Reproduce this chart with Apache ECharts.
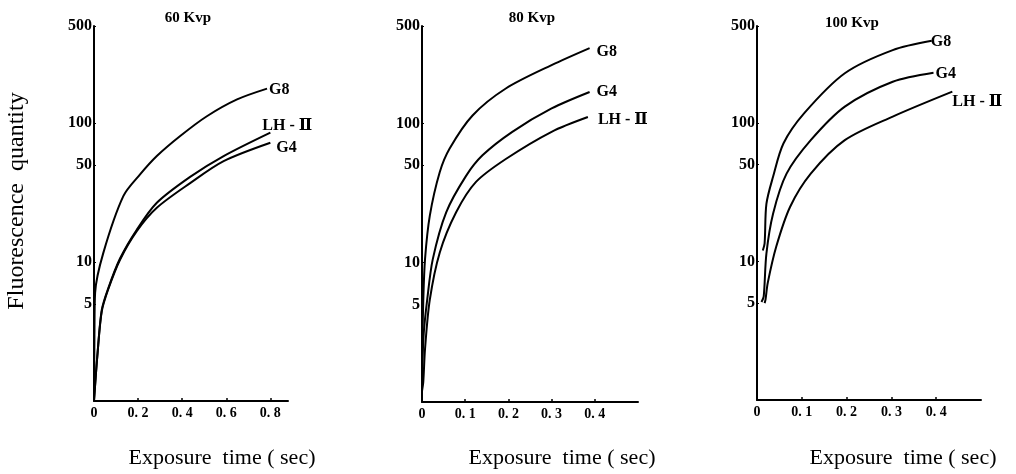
<!DOCTYPE html>
<html>
<head>
<meta charset="utf-8">
<script src="https://cdn.jsdelivr.net/npm/echarts@6/dist/echarts.min.js"></script>
<style>html,body{margin:0;padding:0;background:#fff}#c{width:1016px;height:474px}</style>
</head>
<body>
<div id="c"></div>
<script>
// ---- data (exposure time sec, fluorescence quantity) ----
const panelTitles = ['60 Kvp', '80 Kvp', '100 Kvp'];
const yTickValues = [5, 10, 50, 100, 500];
const xMaxes = [0.88, 0.5, 0.5];
const xIntervals = [0.2, 0.1, 0.1];

// 60 Kvp
const g8_60 = [[0,1],[0.002,3],[0.005,6],[0.042,11.6],[0.133,29.8],[0.209,42.7],[0.285,57.9],[0.391,80.7],[0.512,112],[0.649,148],[0.785,177]];
const lh_60 = [[0,1],[0.005,1.3],[0.015,2.1],[0.035,4.5],[0.065,6.5],[0.118,10.6],[0.194,17.1],[0.285,26.7],[0.436,41],[0.588,57.9],[0.8,85.4]];
const g4_60 = [[0,1],[0.005,1.3],[0.015,2.1],[0.035,4.4],[0.065,6.4],[0.118,10.4],[0.194,16.7],[0.285,24.6],[0.436,37],[0.588,53.3],[0.8,72.3]];
// 80 Kvp
const g8_80 = [[0,2],[0.003,5.4],[0.007,10.6],[0.018,21.7],[0.041,44.6],[0.064,66],[0.117,114],[0.194,178],[0.30,262],[0.388,347]];
const g4_80 = [[0,1.5],[0.004,3.1],[0.012,5.4],[0.025,10.6],[0.056,23],[0.102,42],[0.14,59],[0.209,87],[0.30,128],[0.388,168]];
const lh_80 = [[0,1.2],[0.003,1.4],[0.007,2.4],[0.018,5.4],[0.041,11.8],[0.079,23],[0.125,38],[0.194,55.5],[0.30,87],[0.384,111]];
// 100 Kvp
const g8_100 = [[0.013,12],[0.017,13.5],[0.021,26],[0.036,41],[0.059,71],[0.105,117],[0.196,228],[0.303,335],[0.39,391]];
const g4_100 = [[0.01,5.1],[0.015,5.6],[0.021,11.4],[0.036,22.2],[0.066,43],[0.12,75],[0.196,131],[0.303,198],[0.394,230]];
const lh_100 = [[0.017,5],[0.019,5.3],[0.024,7],[0.043,12.8],[0.074,24.8],[0.12,43],[0.196,75],[0.303,111],[0.436,168]];

const seriesNames = ['G8', 'G4', 'LH - Ⅱ'];
const panelData = [
  {G8: g8_60, 'G4': g4_60, 'LH - Ⅱ': lh_60},
  {G8: g8_80, 'G4': g4_80, 'LH - Ⅱ': lh_80},
  {G8: g8_100, 'G4': g4_100, 'LH - Ⅱ': lh_100}
];
// label offsets [dx, dy] per panel per series
const labelOffsets = [
  {G8: [0, 1], 'G4': [4, 5], 'LH - Ⅱ': [-10, -7]},
  {G8: [5, 4], 'G4': [5, 0], 'LH - Ⅱ': [8, 3]},
  {G8: [-3, 1], 'G4': [0, 1], 'LH - Ⅱ': [-2, 10]}
];

const grids = [
  {left: 94, top: 26, width: 194, height: 375, outerBoundsMode: 'none', containLabel: false},
  {left: 422, top: 26, width: 216, height: 376, outerBoundsMode: 'none', containLabel: false},
  {left: 757, top: 26, width: 224, height: 374, outerBoundsMode: 'none', containLabel: false}
];

const serif = '"Liberation Serif", "DejaVu Serif", serif';
const chart = echarts.init(document.getElementById('c'));

const xAxes = [], yAxes = [], series = [];
grids.forEach((g, i) => {
  xAxes.push({
    type: 'value', gridIndex: i, min: 0, max: xMaxes[i], interval: xIntervals[i],
    axisLine: {show: true, lineStyle: {color: '#000', width: 2}},
    axisTick: {show: true, inside: true, length: 3, lineStyle: {color: '#000', width: 1.5}},
    splitLine: {show: false},
    axisLabel: {color: '#000', fontFamily: serif, fontWeight: 'bold', fontSize: 14, margin: 5,
      showMaxLabel: false,
      formatter: v => v === 0 ? '0' : v.toFixed(1).replace('.', '. ')}
  });
  yAxes.push({
    type: 'log', logBase: 10, gridIndex: i, min: 1, max: 500,
    axisLine: {show: true, lineStyle: {color: '#000', width: 2}},
    axisTick: {show: true, inside: true, length: 2, customValues: yTickValues, lineStyle: {color: '#000'}},
    splitLine: {show: false},
    minorTick: {show: false},
    axisLabel: {color: '#000', fontFamily: serif, fontWeight: 'bold', fontSize: 16, margin: 2,
      customValues: yTickValues}
  });
  seriesNames.forEach(name => {
    const off = labelOffsets[i][name];
    series.push({
      type: 'line', name: name, xAxisIndex: i, yAxisIndex: i,
      data: panelData[i][name], showSymbol: false, symbol: 'none',
      smooth: 0.3,
      lineStyle: {color: '#000', width: 2},
      endLabel: {show: true, formatter: name, color: '#000', fontFamily: serif,
        fontWeight: 'bold', fontSize: 16, distance: 2, offset: off},
      animation: false
    });
  });
});

const graphics = [];
const titleCenters = [[188, 18], [532, 18], [852, 23]];
panelTitles.forEach((t, i) => {
  graphics.push({type: 'text', x: titleCenters[i][0], y: titleCenters[i][1],
    style: {text: t, fill: '#000', font: 'bold 15px ' + serif, textAlign: 'center', textVerticalAlign: 'middle'}});
});
const xNameCenters = [222, 562, 903];
xNameCenters.forEach(cx => {
  graphics.push({type: 'text', x: cx, y: 458,
    style: {text: 'Exposure  time ( sec)', fill: '#000', font: '22px ' + serif, textAlign: 'center', textVerticalAlign: 'middle'}});
});
graphics.push({type: 'text', x: 17, y: 201, rotation: Math.PI / 2,
  style: {text: 'Fluorescence  quantity', fill: '#000', font: '24px ' + serif, textAlign: 'center', textVerticalAlign: 'middle'}});

chart.setOption({
  animation: false,
  backgroundColor: '#fff',
  grid: grids,
  xAxis: xAxes,
  yAxis: yAxes,
  series: series,
  graphic: graphics
});
</script>
</body>
</html>
